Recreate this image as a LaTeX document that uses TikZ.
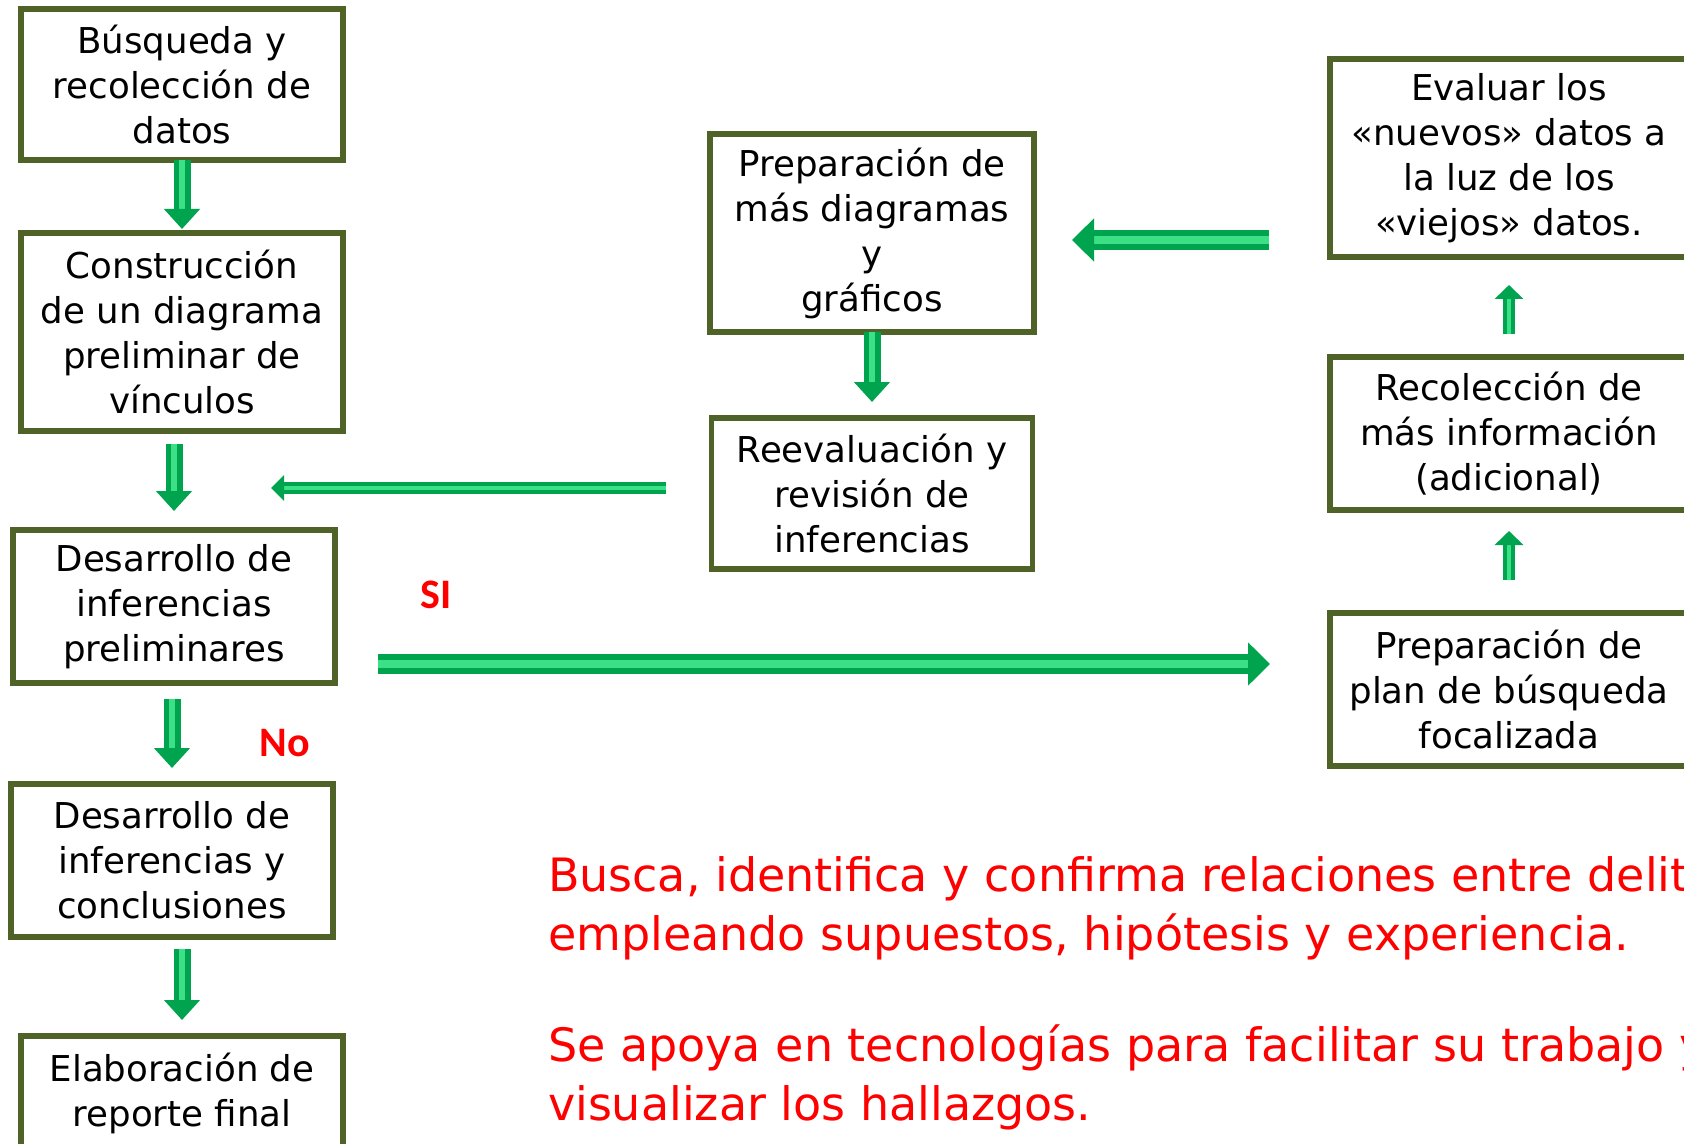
\documentclass[tikz,border=0pt]{standalone}
\usepackage{fontspec}
\setmainfont{DejaVu Sans}
\newfontfamily\carlito{Carlito}
\usepackage{tikz}
\usetikzlibrary{positioning}
\usetikzlibrary{arrows.meta,calc}
\definecolor{borde}{RGB}{79,98,40}
\definecolor{verde}{RGB}{0,163,78}
\definecolor{verdeclaro}{RGB}{60,225,135}
\definecolor{rojo}{RGB}{255,0,0}
\tikzset{
    % Define block arrow style
    flecha/.style={
           draw=verde,
           line width=0.3*#1,
           double=verdeclaro,
           double distance=0.4*#1,}
}
\newcommand{\nodewidth}{161pt}
\newcommand{\nodeheight}{76.5pt}
\newcommand{\tallheight}{99pt}

\begin{document}
\begin{tikzpicture}[x=0.5pt, y=-0.5pt, node distance=0pt, outer sep=0pt]
\tikzstyle{paso}=[ draw=borde, line width=2.6pt,
                  rectangle, fill=white,
                  minimum height=\nodeheight, minimum width=\nodewidth,
                  inner sep=0pt, align=center,
                  font=\fontsize{17.8}{22.5}\selectfont,
                  anchor=north west]
\tikzstyle{pasoalto}=[paso, minimum height=\tallheight]
\tikzstyle{pasoancho}=[paso, minimum width=179pt]
\tikzstyle{nota}=[ text=rojo, align=left, inner sep=0pt,
                  anchor=base west,
                  font=\fontsize{23}{29.5}\selectfont]
\tikzstyle{lab}=[ text=rojo, inner sep=0pt,
                  font=\fontsize{21}{25}\selectfont\carlito\bfseries]
\tikzstyle{bajada}=[flecha=8.5pt, -{Triangle[length=10pt, width=17.5pt]}]
\tikzstyle{subida}=[flecha=6pt, -{Triangle[length=7pt, width=14pt]}]
\tikzstyle{retro}=[flecha=6pt, -{Triangle[length=6.5pt, width=12.5pt]}]
\tikzstyle{ancha}=[flecha=10pt, -{Triangle[length=11pt, width=21pt]}]

\useasboundingbox (0,0) rectangle (1684,1144);
\clip (0,0) rectangle (1684,1144);

% left column
\node[paso, minimum height=75.5pt] (busqueda) at (21,9) {B\'usqueda y\\recolecci\'on de\\datos};
\node[pasoalto] (construccion) [below = 36.5pt of busqueda] {Construcci\'on\\de un diagrama\\preliminar de\\v\'inculos};
\node[paso] (prelim) [below = 49.5pt of construccion, xshift=-4pt] {Desarrollo de\\inferencias\\preliminares};
\node[paso] (conclusiones) [below = 50.5pt of prelim, xshift=-1pt] {Desarrollo de\\inferencias y\\conclusiones};
\node[paso] (reporte) [below = 49.5pt of conclusiones, xshift=5pt] {Elaboraci\'on de\\reporte final\\\mbox{}};

% middle column
\node[pasoalto, minimum width=162pt] (diagramas) at (710,134) {Preparaci\'on de\\m\'as diagramas\\y\\gr\'aficos};
\node[paso, minimum height=75.5pt, minimum width=160.5pt] (reevaluacion) [below = 43pt of diagramas] {Reevaluaci\'on y\\revisi\'on de\\inferencias};

% right column
\node[pasoancho, minimum height=\tallheight] (evaluar) at (1330,59) {Evaluar los\\«nuevos» datos a\\la luz de los\\«viejos» datos.};
\node[pasoancho] (recoleccion) [below = 50pt of evaluar] {Recolecci\'on de\\m\'as informaci\'on\\(adicional)};
\node[pasoancho] (plan) [below = 51.5pt of recoleccion] {Preparaci\'on de\\plan de b\'usqueda\\focalizada};

\coordinate (retorno) at (271,488);
\coordinate (ojo) at ([yshift=-3.5pt]diagramas.east);
\coordinate (si_y) at ([yshift=-28.75pt]prelim.east);

\draw[bajada, shorten >=2pt] (busqueda.south) -- (construccion.north);
\draw[bajada, shorten <=6.5pt, shorten >=9.5pt] (construccion.south -| prelim.north) -- (prelim.north);
\draw[bajada, shorten <=8pt, shorten >=8pt] (prelim.south -| conclusiones.north) -- (conclusiones.north);
\draw[bajada, shorten <=6pt, shorten >=8pt] (reporte.north |- conclusiones.south) -- (reporte.north);
\draw[bajada, shorten >=8pt] (diagramas.south) -- (reevaluacion.north);

\draw[retro, shorten <=23pt] (reevaluacion.west |- retorno) -- (retorno);
\draw[ancha, shorten <=30.5pt, shorten >=19pt] (evaluar.west |- ojo) -- (ojo);
\draw[ancha, shorten <=21.5pt, shorten >=30pt] (si_y) -- (si_y -| plan.west);

\draw[subida, shorten <=16.5pt, shorten >=10.5pt] (plan.north) -- (recoleccion.south);
\draw[subida, shorten <=11.5pt, shorten >=14pt] (recoleccion.north) -- (evaluar.south);

\node[lab] (si) at (436,595) {SI};
\node[lab] (no) at (285,743) {No};

\node[nota] (texto) at (548,1120) {Busca, identifica y confirma relaciones entre delitos\\empleando supuestos, hip\'otesis y experiencia.\\[26pt]Se apoya en tecnolog\'ias para facilitar su trabajo y\\visualizar los hallazgos.};

\end{tikzpicture}
\end{document}
